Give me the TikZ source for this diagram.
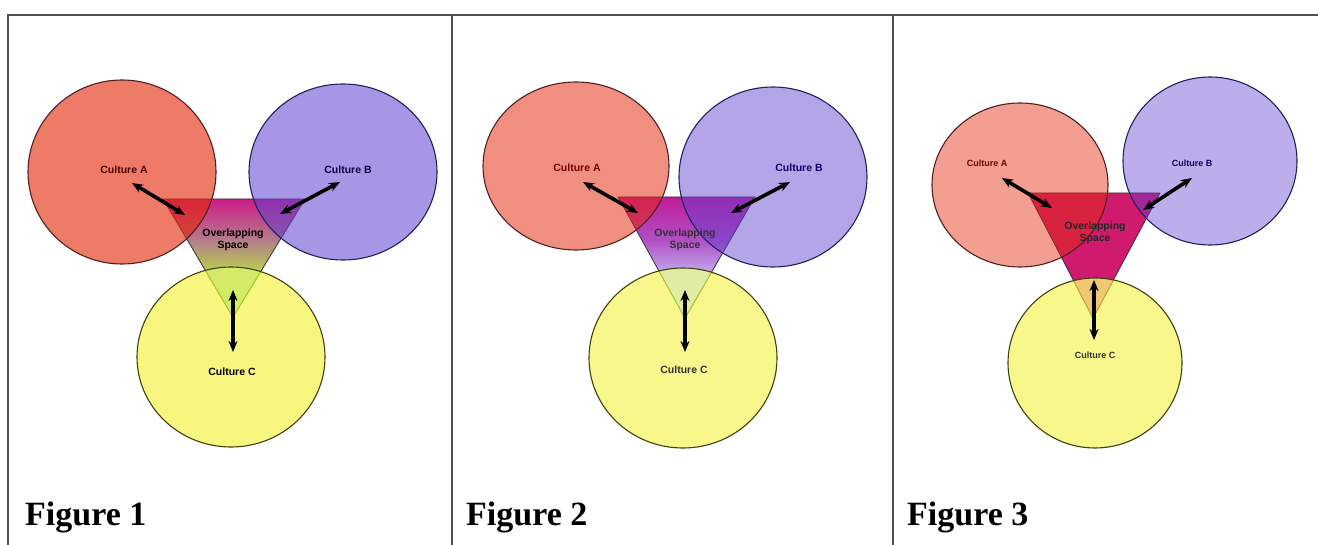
\documentclass[tikz,border=0pt]{standalone}
\usepackage{fontspec}
\setmainfont{Liberation Serif}
\newfontfamily\labfont{Liberation Sans}
\usetikzlibrary{arrows.meta}
\definecolor{framegray}{HTML}{505050}
\definecolor{redA}{HTML}{E42A0A}
\definecolor{blueB}{HTML}{6040D0}
\definecolor{yelC}{HTML}{F0EE00}
\definecolor{outA}{HTML}{502020}
\definecolor{outB}{HTML}{202060}
\definecolor{outC}{HTML}{404010}
\definecolor{magTop}{HTML}{CC1C88}
\definecolor{roseGray}{HTML}{B4808A}
\definecolor{limeBot}{HTML}{B8E040}
\definecolor{magTopB}{HTML}{C01C9C}
\definecolor{purpMid}{HTML}{B050C4}
\definecolor{lavBot}{HTML}{C4B4F4}
\definecolor{crimson}{HTML}{D01A6E}
\definecolor{inCone}{HTML}{D4EC70}
\definecolor{inCtwo}{HTML}{E2F0A8}
\definecolor{inCthree}{HTML}{F2D078}
\definecolor{edgeC}{HTML}{A8C830}
\definecolor{edgeCthree}{HTML}{C8A040}
\definecolor{labA}{HTML}{500000}
\definecolor{labB}{HTML}{100040}
\pgfdeclareverticalshading{ovlone}{100bp}{color(0bp)=(limeBot); color(25bp)=(limeBot); color(42bp)=(limeBot); color(57bp)=(roseGray); color(75bp)=(magTop); color(100bp)=(magTop)}
\pgfdeclareverticalshading{ovltwo}{100bp}{color(0bp)=(lavBot); color(25bp)=(lavBot); color(42bp)=(lavBot); color(57bp)=(purpMid); color(75bp)=(magTopB); color(100bp)=(magTopB)}
\begin{document}
\begin{tikzpicture}[x=1pt,y=-1pt,
  frameline/.style={draw=framegray, line width=1.5pt},
  tri/.style={draw=black!80, line width=0.8pt},
  fillA/.style={fill=redA},
  fillB/.style={fill=blueB},
  fillC/.style={fill=yelC},
  lineA/.style={draw=outA, line width=1.1pt},
  lineB/.style={draw=outB, line width=1.1pt},
  lineC/.style={draw=outC, line width=1.1pt},
  lab/.style={font=\labfont\bfseries\fontsize{10.5}{11.5}\selectfont, inner sep=0pt, align=center},
  labs/.style={font=\labfont\bfseries\fontsize{9}{10}\selectfont, inner sep=0pt, align=center},
  figlab/.style={font=\bfseries\fontsize{34}{36}\selectfont, anchor=base west, inner sep=0pt},
  dbl/.style={{Stealth[length=11pt,width=9pt]}-{Stealth[length=11pt,width=9pt]}, line width=3.6pt, black},
]
\useasboundingbox (0,0) rectangle (1318,545);
\fill[white] (0,0) rectangle (1318,545);

% ---------------- Panel 1 ----------------
\def\triOne{(163,199) -- (305,199) -- (233,317) -- cycle}
\shade[shading=ovlone] \triOne;
\draw[tri] \triOne;
\path[fillA, fill opacity=0.62] (122,172) ellipse [x radius=94, y radius=92];
\path[lineA] (122,172) ellipse [x radius=94, y radius=92];
\path[fillB, fill opacity=0.55] (343,172) ellipse [x radius=94, y radius=88];
\path[lineB] (343,172) ellipse [x radius=94, y radius=88];
\path[fillC, fill opacity=0.5] (231,357) ellipse [x radius=94, y radius=90];
\begin{scope}
  \clip (231,357) ellipse [x radius=94, y radius=90];
  \fill[inCone, fill opacity=0.9] \triOne;
  \draw[edgeC, line width=0.9pt] \triOne;
\end{scope}
\path[lineC] (231,357) ellipse [x radius=94, y radius=90];
\node[lab, text=labA] (a1) at (124,170) {Culture A};
\node[lab, text=labB] (b1) at (348,170) {Culture B};
\node[lab] (c1) at (232,372) {Culture C};
\node[lab] (o1) at (233,240) {Overlapping\\Space};
\coordinate (a1s) at (132,183); \coordinate (a1e) at (185,215);
\coordinate (b1s) at (340,182); \coordinate (b1e) at (280,214);
\coordinate (c1s) at (233,290); \coordinate (c1e) at (233,352);
\draw[dbl] (a1s) -- (a1e);
\draw[dbl] (b1s) -- (b1e);
\draw[dbl] (c1s) -- (c1e);
\node[figlab] (f1) at (25,525) {Figure 1};

% ---------------- Panel 2 ----------------
\def\triTwo{(618,197) -- (755,197) -- (685,318) -- cycle}
\shade[shading=ovltwo] \triTwo;
\draw[tri] \triTwo;
\path[fillA, fill opacity=0.52] (576,166) ellipse [x radius=93, y radius=84];
\path[lineA] (576,166) ellipse [x radius=93, y radius=84];
\path[fillB, fill opacity=0.47] (773,177) ellipse [x radius=94, y radius=90];
\path[lineB] (773,177) ellipse [x radius=94, y radius=90];
\path[fillC, fill opacity=0.45] (683,358) ellipse [x radius=94, y radius=90];
\begin{scope}
  \clip (683,358) ellipse [x radius=94, y radius=90];
  \fill[inCtwo, fill opacity=0.9] \triTwo;
  \draw[edgeC, line width=0.9pt] \triTwo;
\end{scope}
\path[lineC] (683,358) ellipse [x radius=94, y radius=90];
\node[lab, text=labA!80!red] (a2) at (577,168) {Culture A};
\node[lab, text=labB!80!blue] (b2) at (799,168) {Culture B};
\node[lab, text=black!80] (c2) at (684,370) {Culture C};
\node[lab, text=black!80] (o2) at (685,240) {Overlapping\\Space};
\coordinate (a2s) at (583,182); \coordinate (a2e) at (638,213);
\coordinate (b2s) at (790,182); \coordinate (b2e) at (731,213);
\coordinate (c2s) at (685,290); \coordinate (c2e) at (685,352);
\draw[dbl] (a2s) -- (a2e);
\draw[dbl] (b2s) -- (b2e);
\draw[dbl] (c2s) -- (c2e);
\node[figlab] (f2) at (466,525) {Figure 2};

% ---------------- Panel 3 ----------------
\def\triThree{(1028,193) -- (1160,193) -- (1093,318) -- cycle}
\fill[crimson] \triThree;
\draw[tri] \triThree;
\path[fillA, fill opacity=0.45] (1020,185) ellipse [x radius=88, y radius=82];
\path[lineA] (1020,185) ellipse [x radius=88, y radius=82];
\path[fillB, fill opacity=0.42] (1210,161) ellipse [x radius=87, y radius=84];
\path[lineB] (1210,161) ellipse [x radius=87, y radius=84];
\path[fillC, fill opacity=0.45] (1095,363) ellipse [x radius=87, y radius=85];
\begin{scope}
  \clip (1095,363) ellipse [x radius=87, y radius=85];
  \fill[inCthree, fill opacity=0.9] \triThree;
  \draw[edgeCthree, line width=0.9pt] \triThree;
\end{scope}
\path[lineC] (1095,363) ellipse [x radius=87, y radius=85];
\node[labs, text=labA!80!red] (a3) at (987,163) {Culture A};
\node[labs, text=labB!80!blue] (b3) at (1192,163) {Culture B};
\node[labs, text=black!80] (c3) at (1095,355) {Culture C};
\node[lab, text=black!85] (o3) at (1095,233) {Overlapping\\Space};
\coordinate (a3s) at (1002,178); \coordinate (a3e) at (1052,208);
\coordinate (b3s) at (1192,178); \coordinate (b3e) at (1143,210);
\coordinate (c3s) at (1094,280); \coordinate (c3e) at (1094,340);
\draw[dbl] (a3s) -- (a3e);
\draw[dbl] (b3s) -- (b3e);
\draw[dbl] (c3s) -- (c3e);
\node[figlab] (f3) at (907,525) {Figure 3};

% ---------------- Frame ----------------
\draw[frameline] (8,545) -- (8,15) -- (1318,15);
\draw[frameline] (452,15) -- (452,545);
\draw[frameline] (893,15) -- (893,545);
\end{tikzpicture}
\end{document}
